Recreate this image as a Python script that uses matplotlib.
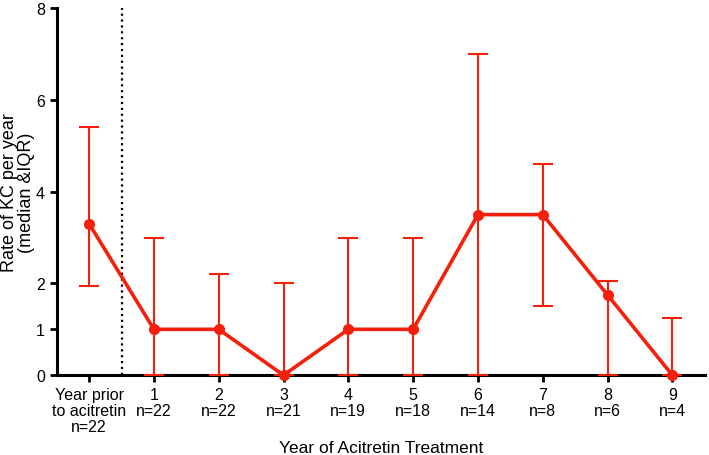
import matplotlib.pyplot as plt

plt.rcParams['font.family'] = ['Liberation Sans', 'DejaVu Sans']

# data
labels = ['Year prior\nto acitretin\nn=22', '1\nn=22', '2\nn=22', '3\nn=21', '4\nn=19',
          '5\nn=18', '6\nn=14', '7\nn=8', '8\nn=6', '9\nn=4']
median = [3.3, 1, 1, 0, 1, 1, 3.5, 3.5, 1.75, 0]
q1 = [1.95, 0, 0, 0, 0, 0, 0, 1.5, 0, 0]
q3 = [5.4, 3, 2.2, 2, 3, 3, 7, 4.6, 2.05, 1.25]

red = '#f5200c'
x = list(range(len(labels)))
lo = [m - a for m, a in zip(median, q1)]
hi = [b - m for m, b in zip(median, q3)]

fig = plt.figure(figsize=(7.09, 4.56), dpi=100)
ax = fig.add_axes([0.080, 0.175, 0.914, 0.805])

ax.errorbar(x, median, yerr=[lo, hi], fmt='none', ecolor=red, elinewidth=1.5,
            capsize=7, capthick=1.5, zorder=3, clip_on=False)
ax.plot(x, median, color=red, lw=2.6, marker='o', ms=7, zorder=4, clip_on=False)

ax.axvline(0.5, color='black', ls=':', lw=1.6, ymax=1.0)

ax.set_xlim(-0.5, 9.5)
ax.set_ylim(0, 8)
ax.set_yticks([0, 1, 2, 4, 6, 8])
ax.set_xticks(x)
ax.set_xticklabels(labels, fontsize=11.5, linespacing=1.1)
ax.tick_params(axis='y', labelsize=11.5, width=2, length=5)
ax.tick_params(axis='x', width=2, length=5)

for s in ['top', 'right']:
    ax.spines[s].set_visible(False)
for s in ['left', 'bottom']:
    ax.spines[s].set_linewidth(2.2)

ax.set_ylabel('Rate of KC per year\n(median &IQR)', fontsize=13, linespacing=1.0)
ax.yaxis.set_label_coords(-0.033, 0.50)
ax.set_xlabel('Year of Acitretin Treatment', fontsize=12.5, labelpad=4)

plt.savefig('out.png', dpi=100)
